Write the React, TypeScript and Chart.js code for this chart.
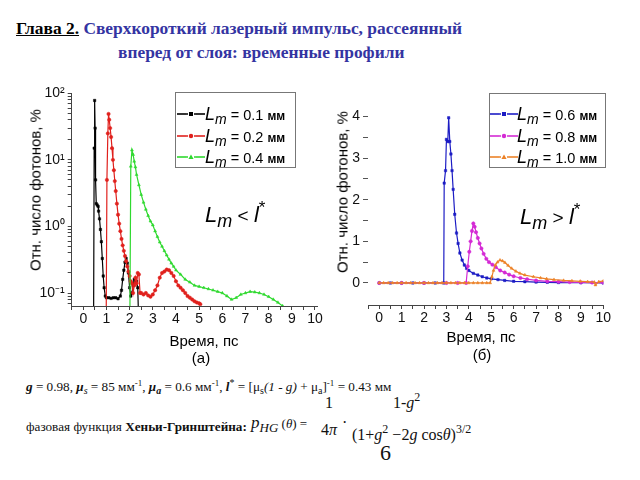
import React, { useEffect, useRef } from "react";
import { Chart, registerables } from "chart.js";
Chart.register(...registerables);

// ---------- data: panel (а), log scale ----------
const tBlack = [0.44, 0.47, 0.49, 0.51, 0.53, 0.56, 0.6, 0.64, 0.66, 0.7, 0.74, 0.78, 0.82, 0.86, 0.9, 0.95, 1.0, 1.1, 1.2, 1.3, 1.4, 1.5, 1.6, 1.65, 1.7, 1.75, 1.8, 1.85, 1.9, 1.95, 2.0, 2.05, 2.1, 2.15, 2.2, 2.25, 2.3, 2.35, 2.38, 2.42];
const vBlack = [0.01, 15, 78, 30, 5, 2.2, 2.1, 2.0, 1.7, 1.3, 0.9, 0.59, 0.33, 0.18, 0.12, 0.09, 0.085, 0.085, 0.083, 0.085, 0.085, 0.082, 0.09, 0.11, 0.16, 0.22, 0.29, 0.33, 0.28, 0.2, 0.12, 0.09, 0.1, 0.13, 0.16, 0.15, 0.15, 0.12, 0.05, 0.01];

const tRed = [0.98, 1.02, 1.06, 1.09, 1.12, 1.16, 1.2, 1.24, 1.28, 1.32, 1.36, 1.4, 1.45, 1.5, 1.55, 1.6, 1.65, 1.7, 1.75, 1.8, 1.85, 1.9, 1.95, 2.0, 2.05, 2.1, 2.15, 2.2, 2.25, 2.3, 2.35, 2.4, 2.45, 2.5, 2.6, 2.7, 2.8, 2.9, 3.0, 3.1, 3.2, 3.3, 3.4, 3.5, 3.6, 3.7, 3.8, 3.9, 4.0, 4.1, 4.2, 4.3, 4.4, 4.5, 4.6, 4.7, 4.8, 4.9, 5.0, 5.05];
const vRed = [0.01, 5, 25, 49, 40, 30, 22, 15, 10, 7, 4.8, 3.4, 2.2, 1.5, 1.1, 0.85, 0.65, 0.52, 0.43, 0.36, 0.3, 0.25, 0.21, 0.18, 0.15, 0.14, 0.1, 0.13, 0.17, 0.14, 0.2, 0.19, 0.1, 0.1, 0.095, 0.1, 0.092, 0.088, 0.095, 0.11, 0.13, 0.17, 0.2, 0.21, 0.225, 0.22, 0.2, 0.18, 0.15, 0.13, 0.12, 0.11, 0.1, 0.09, 0.085, 0.08, 0.075, 0.072, 0.07, 0.068];

const tGreen = [2.0, 2.05, 2.1, 2.15, 2.2, 2.25, 2.3, 2.4, 2.5, 2.6, 2.7, 2.8, 2.9, 3.0, 3.1, 3.2, 3.3, 3.4, 3.5, 3.6, 3.7, 3.8, 3.9, 4.0, 4.2, 4.4, 4.6, 4.8, 5.0, 5.2, 5.4, 5.6, 5.8, 6.0, 6.2, 6.4, 6.6, 6.8, 7.0, 7.2, 7.4, 7.6, 7.8, 8.0, 8.2, 8.4, 8.6, 8.7];
const vGreen = [0.01, 8, 14, 12, 9.5, 7.8, 6, 4.2, 3, 2.3, 1.8, 1.45, 1.2, 1.05, 0.85, 0.7, 0.58, 0.5, 0.43, 0.37, 0.32, 0.28, 0.25, 0.22, 0.19, 0.16, 0.145, 0.13, 0.125, 0.12, 0.115, 0.11, 0.105, 0.1, 0.09, 0.08, 0.085, 0.095, 0.1, 0.105, 0.103, 0.1, 0.095, 0.088, 0.08, 0.072, 0.064, 0.06];

// ---------- data: panel (б), linear scale ----------
const tBlue = [0, 0.5, 1, 1.5, 2, 2.5, 2.88, 2.9, 2.96, 3.0, 3.06, 3.1, 3.15, 3.2, 3.25, 3.3, 3.37, 3.45, 3.52, 3.6, 3.7, 3.8, 3.9, 4.0, 4.2, 4.4, 4.6, 4.8, 5.0, 5.3, 5.6, 6.0, 6.5, 7.0, 7.5, 8.0, 9.0, 10];
const vBlue = [0, 0, 0, 0, 0, 0, 0, 2.4, 2.7, 3.45, 3.4, 3.97, 3.4, 3.1, 2.7, 2.25, 1.65, 1.2, 0.95, 0.72, 0.55, 0.43, 0.35, 0.3, 0.23, 0.19, 0.15, 0.12, 0.1, 0.08, 0.06, 0.04, 0.03, 0.02, 0.015, 0.01, 0.005, 0];

const tMagenta = [0, 1, 2, 3, 3.5, 3.88, 3.95, 4.02, 4.08, 4.14, 4.2, 4.26, 4.32, 4.4, 4.48, 4.56, 4.66, 4.78, 4.9, 5.05, 5.2, 5.4, 5.6, 5.8, 6.0, 6.3, 6.6, 7.0, 7.5, 8.0, 8.5, 9.0, 9.5, 10];
const vMagenta = [0, 0, 0, 0, 0, 0, 0.4, 0.75, 1.0, 1.25, 1.43, 1.35, 1.22, 1.08, 0.95, 0.83, 0.7, 0.58, 0.5, 0.44, 0.38, 0.3, 0.25, 0.2, 0.16, 0.12, 0.09, 0.06, 0.04, 0.03, 0.02, 0.015, 0.01, 0.01];

const tOrange = [0, 0.2, 0.4, 0.6, 0.8, 1.0, 1.2, 1.4, 1.6, 1.8, 2.0, 2.2, 2.4, 2.6, 2.8, 3.0, 3.2, 3.4, 3.6, 3.8, 4.0, 4.2, 4.4, 4.6, 4.8, 4.95, 5.03, 5.1, 5.18, 5.28, 5.39, 5.5, 5.61, 5.75, 5.91, 6.1, 6.28, 6.5, 6.88, 7.2, 7.47, 7.8, 8.23, 8.6, 8.97, 9.3, 9.6, 9.65, 9.8, 10];
const vOrange = [0, 0, 0, 0, 0, 0, 0, 0, 0, 0, 0, 0, 0, 0, 0, 0, 0, 0, 0, 0, 0, 0, 0, 0, 0, 0, 0.15, 0.3, 0.43, 0.5, 0.55, 0.53, 0.49, 0.42, 0.35, 0.28, 0.23, 0.19, 0.15, 0.12, 0.1, 0.08, 0.06, 0.05, 0.04, 0.03, 0.02, -0.05, 0.03, 0.05];

// ---------- ticks / labels ----------
const xTicks = [-0.5, 0, 0.5, 1, 1.5, 2, 2.5, 3, 3.5, 4, 4.5, 5, 5.5, 6, 6.5, 7, 7.5, 8, 8.5, 9, 9.5, 10];
const logTicks = [0.07, 0.08, 0.09, 0.1, 0.2, 0.3, 0.4, 0.5, 0.6, 0.7, 0.8, 0.9, 1, 2, 3, 4, 5, 6, 7, 8, 9, 10, 20, 30, 40, 50, 60, 70, 80, 90, 100];
const logLabels: Record<string, string> = { "0.1": "10⁻¹", "1": "10⁰", "10": "10¹", "100": "10²" };
const linTicks = [0, 0.5, 1, 1.5, 2, 2.5, 3, 3.5, 4];
const legendA = ["0.1", "0.2", "0.4"];
const legendB = ["0.6", "0.8", "1.0"];
const colorsA = ["#000000", "#e0201c", "#2fd92f"];
const colorsB = ["#1c1cc4", "#d42ad4", "#ec8228"];
const stylesAB = ["rect", "circle", "triangle"];

const pts = (t: number[], v: number[]) => t.map((x, i) => ({ x, y: v[i] }));

const SANS = "'Liberation Sans', Arial, sans-serif";
const SERIF = "'Liberation Serif', 'Times New Roman', serif";

function ds(label: string, t: number[], v: number[], color: string, style: string, order: number) {
  return {
    label,
    data: pts(t, v),
    borderColor: color,
    backgroundColor: color,
    pointBackgroundColor: color,
    pointBorderColor: color,
    pointStyle: style,
    pointRadius: 1.7,
    pointBorderWidth: 0.5,
    borderWidth: 1.2,
    tension: 0,
    order,
  };
}

function xScale(min: number, max: number, h: number) {
  return {
    type: "linear",
    min,
    max,
    afterFit: (s: any) => { s.height = h; },
    afterBuildTicks: (s: any) => { s.ticks = xTicks.filter(v => v >= min && v <= max).map(v => ({ value: v })); },
    ticks: {
      autoSkip: false,
      maxRotation: 0,
      padding: 1,
      color: "#111",
      font: { family: SANS, size: 14 },
      callback: (v: any) => (Number.isInteger(v) ? String(v) : ""),
    },
    grid: { drawOnChartArea: false, tickLength: 4, color: "#444" },
    border: { color: "#444", width: 1 },
  };
}

function ChartA() {
  const ref = useRef<HTMLCanvasElement>(null);
  useEffect(() => {
    const chart = new Chart(ref.current!, {
      type: "line",
      data: {
        datasets: [
          ds("Lm = 0.1 мм", tBlack, vBlack, colorsA[0], stylesAB[0], 2),
          ds("Lm = 0.2 мм", tRed, vRed, colorsA[1], stylesAB[1], 1),
          ds("Lm = 0.4 мм", tGreen, vGreen, colorsA[2], stylesAB[2], 0),
        ] as any,
      },
      options: {
        animation: false,
        responsive: false,
        layout: { autoPadding: false, padding: { left: 0, top: 13.3, right: 12.7, bottom: 0 } },
        plugins: { legend: { display: false }, tooltip: { enabled: false } },
        scales: {
          x: xScale(-0.5, 10.1, 64) as any,
          y: {
            type: "logarithmic",
            min: 0.0638,
            max: 100,
            afterFit: (s: any) => { s.width = 71.7; },
            afterBuildTicks: (s: any) => { s.ticks = logTicks.map(v => ({ value: v })); },
            ticks: {
              autoSkip: false,
              padding: 3,
              color: "#111",
              font: { family: SANS, size: 14 },
              callback: (v: any) => logLabels[String(v)] ?? "",
            },
            grid: { drawOnChartArea: false, tickLength: 4, color: "#444" },
            border: { color: "#444", width: 1 },
          } as any,
        },
      },
    });
    return () => chart.destroy();
  }, []);
  return <canvas ref={ref} width={330} height={290} style={{ position: "absolute", left: 0, top: 80, display: "block" }} />;
}

function ChartB() {
  const ref = useRef<HTMLCanvasElement>(null);
  useEffect(() => {
    const chart = new Chart(ref.current!, {
      type: "line",
      data: {
        datasets: [
          ds("Lm = 0.6 мм", tBlue, vBlue, colorsB[0], stylesAB[0], 2),
          ds("Lm = 0.8 мм", tMagenta, vMagenta, colorsB[1], stylesAB[1], 1),
          ds("Lm = 1.0 мм", tOrange, vOrange, colorsB[2], stylesAB[2], 0),
        ] as any,
      },
      options: {
        animation: false,
        responsive: false,
        layout: { autoPadding: false, padding: { left: 0, top: 24.1, right: 36.7, bottom: 0 } },
        plugins: { legend: { display: false }, tooltip: { enabled: false } },
        scales: {
          x: xScale(-0.5, 10, 65) as any,
          y: {
            type: "linear",
            min: -0.53,
            max: 4.3,
            afterFit: (s: any) => { s.width = 38; },
            afterBuildTicks: (s: any) => { s.ticks = linTicks.map(v => ({ value: v })); },
            ticks: {
              autoSkip: false,
              padding: 3,
              color: "#111",
              font: { family: SANS, size: 14 },
              callback: (v: any) => (Number.isInteger(v) ? String(v) : ""),
            },
            grid: { drawOnChartArea: false, tickLength: 5, color: "#555" },
            border: { display: false },
          } as any,
        },
      },
    });
    return () => chart.destroy();
  }, []);
  return <canvas ref={ref} width={310} height={290} style={{ position: "absolute", left: 330, top: 80, display: "block" }} />;
}

// text helper: positioned by baseline
function T(props: { x: number; y: number; size: number; family?: string; style?: React.CSSProperties; children: React.ReactNode }) {
  const { x, y, size, family = SANS, style, children } = props;
  return (
    <div style={{ position: "absolute", left: x, top: y - size * 0.84, fontSize: size, lineHeight: 1, fontFamily: family, whiteSpace: "nowrap", ...style }}>
      {children}
    </div>
  );
}

const sub = (s: string, size: number, extra?: React.CSSProperties) => (
  <span style={{ fontSize: size, verticalAlign: "-0.3em", lineHeight: 0, ...extra }}>{s}</span>
);
const sup = (s: string, size: number, extra?: React.CSSProperties) => (
  <span style={{ fontSize: size, verticalAlign: "0.55em", lineHeight: 0, ...extra }}>{s}</span>
);

function Marker({ shape, color }: { shape: string; color: string }) {
  if (shape === "rect") return <rect x={12} y={2} width={4} height={4} fill={color} />;
  if (shape === "circle") return <circle cx={14} cy={4} r={2.2} fill={color} />;
  return <polygon points="14,1.5 16.6,6 11.4,6" fill={color} />;
}

function Legend({ x, y, w, h, values, colors, sampleX, textX }: { x: number; y: number; w: number; h: number; values: string[]; colors: string[]; sampleX: number; textX: number }) {
  const baselines = [120, 141.7, 163.3];
  return (
    <>
      <div style={{ position: "absolute", left: x, top: y, width: w, height: h, border: "1px solid #777", boxSizing: "border-box" }} />
      {values.map((v, i) => (
        <React.Fragment key={v}>
          <svg width={28} height={8} style={{ position: "absolute", left: sampleX, top: baselines[i] - 10 }}>
            <line x1={0} y1={4} x2={9} y2={4} stroke={colors[i]} strokeWidth={1.6} />
            <line x1={19} y1={4} x2={28} y2={4} stroke={colors[i]} strokeWidth={1.6} />
            <line x1={9} y1={4} x2={19} y2={4} stroke={colors[i]} strokeWidth={1.6} strokeDasharray="2 2" />
            <Marker shape={stylesAB[i]} color={colors[i]} />
          </svg>
          <T x={textX} y={baselines[i]} size={18} style={{ color: "#000" }}>
            <i>L</i>
            {sub("m", 14, { fontStyle: "italic" })}
            <span style={{ fontSize: 14.5 }}> = {v} </span>
            <span style={{ fontSize: 12, fontWeight: "bold" }}>мм</span>
          </T>
        </React.Fragment>
      ))}
    </>
  );
}

export default function App() {
  const blue = "#3434a2";
  return (
    <div style={{ position: "absolute", left: 0, top: 0, width: 640, height: 480, background: "#fff", overflow: "hidden" }}>
      {/* title */}
      <T x={16} y={34.5} size={17.4} family={SERIF} style={{ fontWeight: "bold" }}>
        <span style={{ color: "#000", textDecoration: "underline" }}>Глава 2.</span>
        <span style={{ color: blue }}> Сверхкороткий лазерный импульс, рассеянный</span>
      </T>
      <T x={118} y={58.5} size={17.4} family={SERIF} style={{ fontWeight: "bold", color: blue }}>
        вперед от слоя: временные профили
      </T>

      <ChartA />
      <ChartB />

      {/* axis titles */}
      <div style={{ position: "absolute", left: 35, top: 190, transform: "translate(-50%,-50%) rotate(-90deg)", fontFamily: SANS, fontSize: 15, whiteSpace: "nowrap", lineHeight: 1 }}>
        Отн. число фотонов, %
      </div>
      <div style={{ position: "absolute", left: 342, top: 192, transform: "translate(-50%,-50%) rotate(-90deg)", fontFamily: SANS, fontSize: 15, whiteSpace: "nowrap", lineHeight: 1 }}>
        Отн. число фотонов, %
      </div>
      <div style={{ position: "absolute", left: 204, top: 340, transform: "translate(-50%,-50%)", fontFamily: SANS, fontSize: 15, whiteSpace: "nowrap", lineHeight: 1 }}>Время, пс</div>
      <div style={{ position: "absolute", left: 201, top: 357, transform: "translate(-50%,-50%)", fontFamily: SANS, fontSize: 15, whiteSpace: "nowrap", lineHeight: 1 }}>(а)</div>
      <div style={{ position: "absolute", left: 481, top: 336, transform: "translate(-50%,-50%)", fontFamily: SANS, fontSize: 15, whiteSpace: "nowrap", lineHeight: 1 }}>Время, пс</div>
      <div style={{ position: "absolute", left: 482, top: 354, transform: "translate(-50%,-50%)", fontFamily: SANS, fontSize: 15, whiteSpace: "nowrap", lineHeight: 1 }}>(б)</div>

      {/* legends */}
      <Legend x={175} y={92} w={121} h={76} values={legendA} colors={colorsA} sampleX={177} textX={205} />
      <Legend x={489} y={93} w={117} h={75} values={legendB} colors={colorsB} sampleX={490} textX={517} />

      {/* annotations */}
      <T x={205} y={222} size={22} style={{ color: "#000" }}>
        <i>L</i>{sub("m", 18, { fontStyle: "italic" })}<span style={{ fontSize: 19 }}> &lt; </span><i>l</i>{sup("*", 17)}
      </T>
      <T x={520} y={224} size={22} style={{ color: "#000" }}>
        <i>L</i>{sub("m", 18, { fontStyle: "italic" })}<span style={{ fontSize: 19 }}> &gt; </span><i>l</i>{sup("*", 17)}
      </T>

      {/* bottom text */}
      <T x={26} y={391} size={13.2} family={SERIF} style={{ color: "#111" }}>
        <b><i>g</i></b> = 0.98, <b><i>μ</i></b>{sub("s", 10, { fontStyle: "italic" })} = 85 мм{sup("-1", 9)}, <b><i>μ</i></b>
        {sub("a", 10, { fontStyle: "italic", fontWeight: "bold" })} = 0.6 мм{sup("-1", 9)}, <b><i>l</i></b>{sup("*", 10)} = [μ
        {sub("s", 10)}<i>(1 - g)</i> + μ{sub("a", 10)}]{sup("-1", 9)} = 0.43 мм
      </T>
      <T x={26} y={431} size={13.2} family={SERIF} style={{ color: "#111" }}>
        фазовая функция <b>Хеньи-Гринштейна:</b>
      </T>
      <T x={251} y={428} size={17} family={SERIF} style={{ color: "#111" }}>
        <i>p</i>
        {sub("HG", 13, { fontStyle: "italic" })}
        <span style={{ fontSize: 13 }}> (<i>θ</i>) =</span>
      </T>
      <T x={325} y={408} size={16} family={SERIF} style={{ color: "#111" }}>1</T>
      <T x={321} y={435} size={16} family={SERIF} style={{ color: "#111" }}>4<i>π</i></T>
      <T x={342} y={428} size={16} family={SERIF} style={{ color: "#111" }}>·</T>
      <T x={393} y={408} size={16} family={SERIF} style={{ color: "#111" }}>
        1-<i>g</i>{sup("2", 12)}
      </T>
      <T x={352} y={440} size={16} family={SERIF} style={{ color: "#111" }}>
        (1+<i>g</i>{sup("2", 12)} −2<i>g</i> cos<i>θ</i>){sup("3/2", 12)}
      </T>
      <T x={380} y={460} size={22} family={SERIF} style={{ color: "#111" }}>6</T>
    </div>
  );
}
